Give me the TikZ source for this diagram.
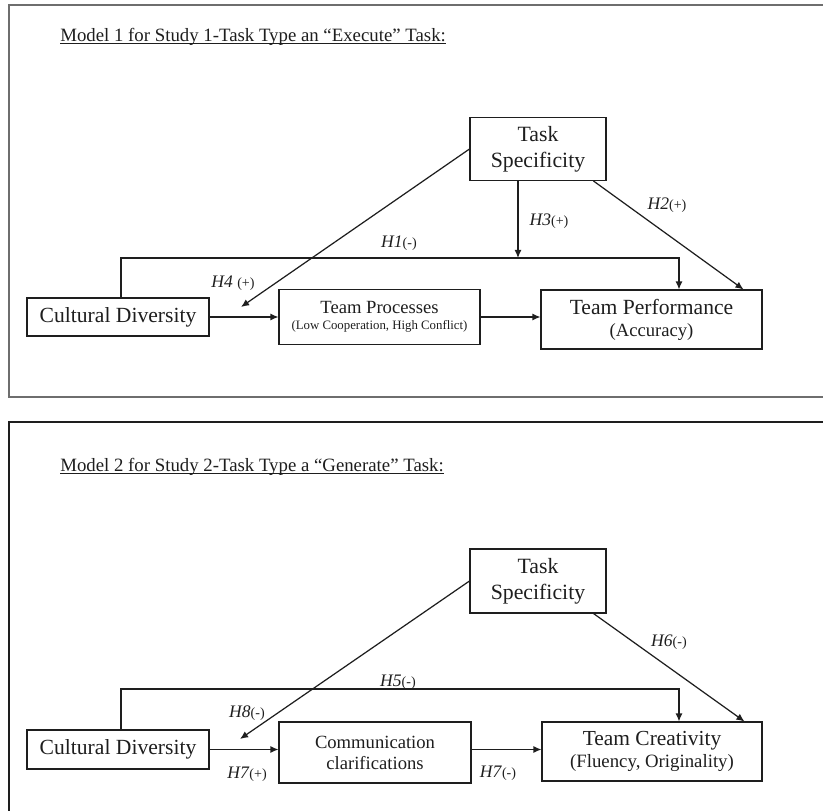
\documentclass[tikz,border=0pt]{standalone}
\usepackage{fontspec}
\setmainfont{Liberation Serif}
\usetikzlibrary{arrows.meta, positioning, calc}
\definecolor{framegray}{RGB}{110, 110, 110}
\definecolor{inkdark}{RGB}{30, 30, 30}
\newcommand{\hlab}[2]{\textit{#1}{\fontsize{8}{9}\selectfont(#2)}}

\begin{document}
\begin{tikzpicture}[
    x=0.02cm, y=-0.02cm,
    construct/.style={
        rectangle, draw=inkdark, line width=0.6pt, align=center, inner sep=0pt, text=inkdark
    },
    link/.style={
        -{Latex[length=4.6pt, width=4pt]}, line width=0.7pt, draw=inkdark
    },
    hyp/.style={
        font=\fontsize{10}{12}\selectfont, text=inkdark, inner sep=0pt
    },
    heading/.style={
        font=\fontsize{10.7}{12}\selectfont, text=inkdark, inner sep=0pt, anchor=base west
    },
    panel/.style={draw=#1, line width=0.7pt}
]
\clip (0,0) rectangle (823,811);

% Frames
\draw[panel=framegray] (830,5) -- (9,5) -- (9,397) -- (830,397);
\draw[panel=inkdark] (830,422) -- (9,422) -- (9,830);

% Model 1
\node[heading] (title1) at (60,42) {Model 1 for Study 1-Task Type an ``Execute'' Task:};
\draw[inkdark, line width=0.5pt] ([yshift=-0.9pt]title1.base west) -- ([yshift=-0.9pt]title1.base east);

\node[construct, minimum width=2.72cm, minimum height=1.26cm, font=\fontsize{12.4}{14.8}\selectfont] (task1) at (538,149) {Task\\Specificity};
\node[construct, minimum width=3.64cm, minimum height=0.76cm, font=\fontsize{12.3}{14}\selectfont] (cd1) at (118,317) {Cultural Diversity};
\node[construct, right=1.38cm of cd1, minimum width=4.02cm, minimum height=1.1cm, font=\fontsize{10.6}{9.1}\selectfont] (tp1) {Team Processes\\{\fontsize{7.3}{8}\selectfont (Low Cooperation, High Conflict)}};
\node[construct, right=1.2cm of tp1, yshift=-0.05cm, minimum width=4.42cm, minimum height=1.18cm, font=\fontsize{12.3}{12.5}\selectfont] (perf1) {Team Performance\\{\fontsize{10.6}{12}\selectfont (Accuracy)}};

\coordinate (bar1) at (679,258);
\coordinate (mod1) at (241,307);

\draw[link] ([xshift=0.06cm]cd1.north) |- (bar1) -- (bar1 |- perf1.north);
\draw[link] ([xshift=-0.4cm]task1.south) -- ([xshift=-0.4cm]task1.south |- bar1);
\draw[link] ([xshift=-0.26cm]task1.south east) -- ([xshift=-0.38cm]perf1.north east);
\draw[link] (task1.west) -- (mod1);
\draw[link] (cd1.east) -- (cd1.east -| tp1.west);
\draw[link] (tp1.east) -- (tp1.east -| perf1.west);

\node[hyp] (lab1) at (399,243) {\hlab{H1}{-}};
\node[hyp] (lab2) at (667,205) {\hlab{H2}{+}};
\node[hyp] (lab3) at (549,221) {\hlab{H3}{+}};
\node[hyp] (lab4) at (233,283) {\hlab{H4\ }{+}};

% Model 2
\node[heading] (title2) at (60,472) {Model 2 for Study 2-Task Type a ``Generate'' Task:};
\draw[inkdark, line width=0.5pt] ([yshift=-0.9pt]title2.base west) -- ([yshift=-0.9pt]title2.base east);

\node[construct, minimum width=2.72cm, minimum height=1.28cm, font=\fontsize{12.4}{14.8}\selectfont] (task2) at (538,581) {Task\\Specificity};
\node[construct, minimum width=3.64cm, minimum height=0.78cm, font=\fontsize{12.3}{14}\selectfont] (cd2) at (118,749.5) {Cultural Diversity};
\node[construct, right=1.38cm of cd2, yshift=-0.06cm, minimum width=3.84cm, minimum height=1.22cm, font=\fontsize{10.6}{12}\selectfont] (comm2) {Communication\\clarifications};
\node[construct, right=1.4cm of comm2, yshift=0.02cm, minimum width=4.4cm, minimum height=1.18cm, font=\fontsize{12.2}{12.5}\selectfont] (tc2) {Team Creativity\\{\fontsize{10.7}{12}\selectfont (Fluency, Originality)}};

\coordinate (bar2) at (679,689);
\coordinate (mod2) at (240,739);

\draw[link] ([xshift=0.06cm]cd2.north) |- (bar2) -- (bar2 |- tc2.north);
\draw[link] ([xshift=-0.26cm]task2.south east) -- ([xshift=-0.36cm]tc2.north east);
\draw[link] (task2.west) -- (mod2);
\draw[link] (cd2.east) -- (cd2.east -| comm2.west);
\draw[link] (cd2.east -| comm2.east) -- (cd2.east -| tc2.west);

\node[hyp] (lab5) at (398,682) {\hlab{H5}{-}};
\node[hyp] (lab6) at (669,642) {\hlab{H6}{-}};
\node[hyp] (lab8) at (247,713) {\hlab{H8}{-}};
\node[hyp] (lab7a) at (247,774) {\hlab{H7}{+}};
\node[hyp] (lab7b) at (498,773) {\hlab{H7}{-}};

\end{tikzpicture}
\end{document}
